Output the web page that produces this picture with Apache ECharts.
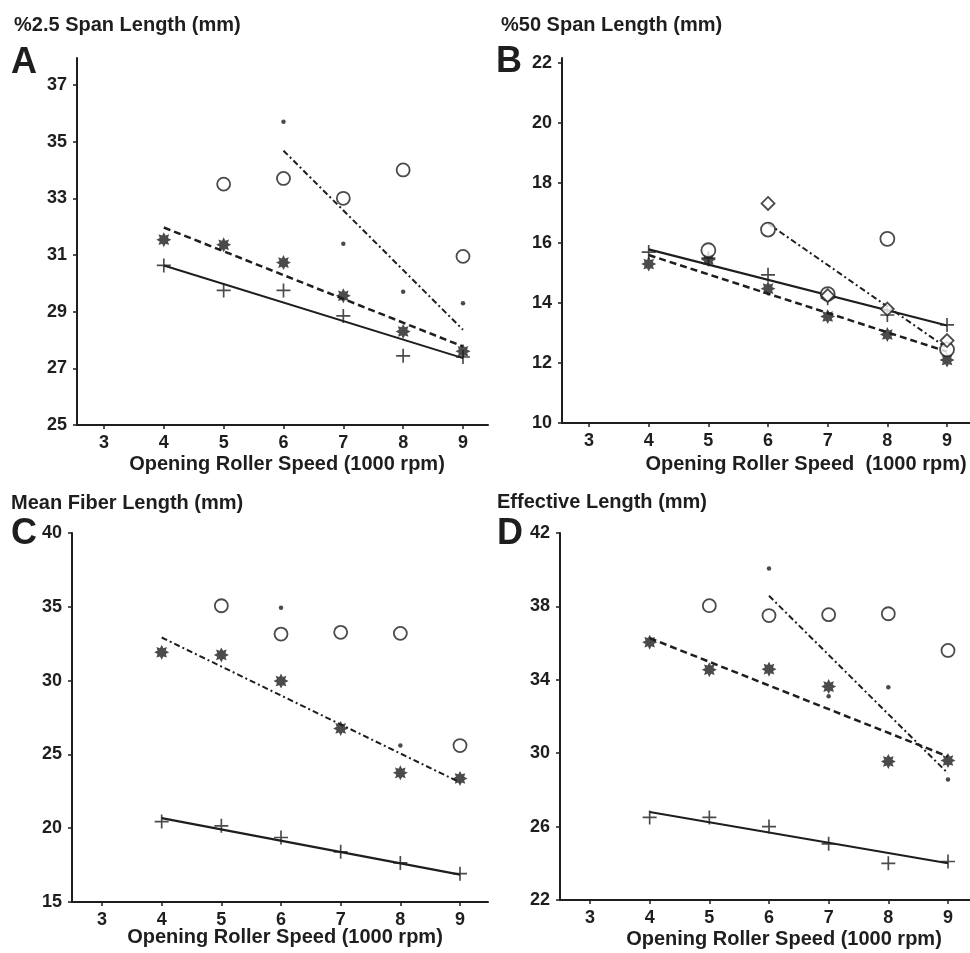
<!DOCTYPE html>
<html>
<head>
<meta charset="utf-8">
<script src="https://cdn.jsdelivr.net/npm/echarts@6/dist/echarts.min.js"></script>
<style>
html,body{margin:0;padding:0;background:#fff;}
#chart{width:970px;height:953px;}
</style>
</head>
<body>
<div id="chart"></div>
<script>
// ---- data ----
const speeds = [4, 5, 6, 7, 8, 9];
const xTicks = [3, 4, 5, 6, 7, 8, 9];
const xAxisTitle = 'Opening Roller Speed (1000 rpm)';
const xAxisTitleB = 'Opening Roller Speed  (1000 rpm)';

// Panel A: %2.5 Span Length (mm)
const titleA = '%2.5 Span Length (mm)';
const yTicksA = [25, 27, 29, 31, 33, 35, 37];
const aPlus   = [30.63, 29.75, 29.75, 28.85, 27.44, 27.4];
const aStar   = [31.54, 31.36, 30.73, 29.56, 28.3, 27.6];
const aCircle = [null, 33.5, 33.7, 33.0, 34.0, 30.95];
const aDot    = [null, null, 35.7, 31.4, 29.7, 29.3];
const aFitSolidX = [4, 9],   aFitSolid = [30.63, 27.36];
const aFitDashX  = [4, 9],   aFitDash  = [31.97, 27.77];
const aFitDotX   = [6, 9],   aFitDot   = [34.68, 28.36];

// Panel B: %50 Span Length (mm)
const titleB = '%50 Span Length (mm)';
const yTicksB = [10, 12, 14, 16, 18, 20, 22];
const bPlus    = [15.7, 15.5, 14.94, 14.16, 13.6, 13.27];
const bStar    = [15.3, 15.45, 14.48, 13.55, 12.95, 12.1];
const bCircle  = [null, 15.76, 16.45, 14.3, 16.14, 12.45];
const bDiamond = [null, null, 17.32, 14.25, 13.8, 12.75];
const bFitSolidX = [4, 9],   bFitSolid = [15.79, 13.25];
const bFitDashX  = [4, 9],   bFitDash  = [15.6, 12.38];
const bFitDotX   = [6, 9],   bFitDot   = [16.65, 12.5];

// Panel C: Mean Fiber Length (mm)
const titleC = 'Mean Fiber Length (mm)';
const yTicksC = [15, 20, 25, 30, 35, 40];
const cPlus   = [20.45, 20.16, 19.37, 18.4, 17.65, 16.92];
const cStar   = [31.92, 31.74, 29.97, 26.76, 23.75, 23.37];
const cCircle = [null, 35.07, 33.15, 33.27, 33.2, 25.6];
const cDot    = [null, null, 34.93, null, 25.6, null];
const cFitSolidX = [4, 9],   cFitSolid = [20.68, 16.85];
const cFitDotX   = [4, 9],   cFitDot   = [32.92, 23.1];

// Panel D: Effective Length (mm)
const titleD = 'Effective Length (mm)';
const yTicksD = [22, 26, 30, 34, 38, 42];
const dPlus   = [26.5, 26.5, 26.0, 25.06, 24.0, 24.1];
const dStar   = [36.05, 34.55, 34.58, 33.63, 29.55, 29.6];
const dCircle = [null, 38.04, 37.5, 37.55, 37.6, 35.6];
const dDot    = [null, null, 40.07, 33.1, 33.6, 28.57];
const dFitSolidX = [4, 9],   dFitSolid = [26.8, 24.0];
const dFitDashX  = [4, 9],   dFitDash  = [36.27, 29.82];
const dFitDotX   = [6, 9],   dFitDot   = [38.58, 28.9];

// ---- styling ----
const INK = '#1e1e1e';
const FONT = '"Liberation Sans", Arial, Helvetica, sans-serif';
const PLUS = 'path://M-1.2,-10 L1.2,-10 L1.2,-1.2 L10,-1.2 L10,1.2 L1.2,1.2 L1.2,10 L-1.2,10 L-1.2,1.2 L-10,1.2 L-10,-1.2 L-1.2,-1.2 Z';
const STAR = 'path://M0,-10 L2.3,-5.5 L7.07,-7.07 L5.5,-2.3 L10,0 L5.5,2.3 L7.07,7.07 L2.3,5.5 L0,10 L-2.3,5.5 L-7.07,7.07 L-5.5,2.3 L-10,0 L-5.5,-2.3 L-7.07,-7.07 L-2.3,-5.5 Z';

function pairs(xs, ys) {
  const out = [];
  xs.forEach((x, i) => { if (ys[i] !== null && ys[i] !== undefined) out.push([x, ys[i]]); });
  return out;
}

const grids = [
  { left: 77,  top: 58,  width: 411, height: 367, xmin: 2.549, xmax: 9.418, ymin: 25, ymax: 37.95, yt: yTicksA },
  { left: 562, top: 58,  width: 408, height: 365, xmin: 2.547, xmax: 9.385, ymin: 10, ymax: 22.17, yt: yTicksB },
  { left: 72,  top: 533, width: 416, height: 369, xmin: 2.497, xmax: 9.469, ymin: 15, ymax: 40,    yt: yTicksC },
  { left: 560, top: 533, width: 410, height: 367, xmin: 2.497, xmax: 9.369, ymin: 22, ymax: 42,    yt: yTicksD }
];

const option = {
  backgroundColor: '#ffffff',
  animation: false,
  grid: grids.map(g => ({ left: g.left, top: g.top, width: g.width, height: g.height, outerBoundsMode: 'none', containLabel: false })),
  xAxis: grids.map((g, i) => ({
    type: 'value', gridIndex: i, min: g.xmin, max: g.xmax,
    axisLine: { show: true, onZero: false, lineStyle: { color: INK, width: 2 } },
    axisTick: { show: true, inside: false, length: 4, customValues: xTicks, lineStyle: { color: INK, width: 1.5 } },
    axisLabel: { customValues: xTicks, margin: 9, color: INK, fontFamily: FONT, fontWeight: 'bold', fontSize: 18 },
    splitLine: { show: false }
  })),
  yAxis: grids.map((g, i) => ({
    type: 'value', gridIndex: i, min: g.ymin, max: g.ymax,
    axisLine: { show: true, onZero: false, lineStyle: { color: INK, width: 2 } },
    axisTick: { show: true, inside: false, length: 4, customValues: g.yt, lineStyle: { color: INK, width: 1.5 } },
    axisLabel: { customValues: g.yt, margin: 10, color: INK, fontFamily: FONT, fontWeight: 'bold', fontSize: 18 },
    splitLine: { show: false }
  })),
  graphic: [],
  series: []
};

// panel texts
const panelText = [
  { t: titleA, tx: 14,  ty: 25,  L: 'A', lx: 11,  ly: 63,  n: xAxisTitle,  nx: 287, ny: 464 },
  { t: titleB, tx: 501, ty: 25,  L: 'B', lx: 496, ly: 62,  n: xAxisTitleB, nx: 806, ny: 464 },
  { t: titleC, tx: 11,  ty: 503, L: 'C', lx: 11,  ly: 534, n: xAxisTitle,  nx: 285, ny: 937 },
  { t: titleD, tx: 497, ty: 502, L: 'D', lx: 497, ly: 534, n: xAxisTitle,  nx: 784, ny: 939 }
];
panelText.forEach(p => {
  option.graphic.push({ type: 'text', x: p.tx, y: p.ty, style: { text: p.t, fill: INK, font: 'bold 20px ' + FONT, textAlign: 'left', textVerticalAlign: 'middle' } });
  option.graphic.push({ type: 'text', x: p.lx, y: p.ly, style: { text: p.L, fill: INK, font: 'bold 36px ' + FONT, textAlign: 'left', textVerticalAlign: 'middle' } });
  option.graphic.push({ type: 'text', x: p.nx, y: p.ny, style: { text: p.n, fill: INK, font: 'bold 20px ' + FONT, textAlign: 'center', textVerticalAlign: 'middle' } });
});

function addScatter(i, ys, symbol, size, filled) {
  option.series.push({
    type: 'scatter', xAxisIndex: i, yAxisIndex: i, data: pairs(speeds, ys),
    symbol: symbol, symbolSize: size, silent: true, z: 3,
    itemStyle: filled ? { color: INK } : { color: '#fff', borderColor: INK, borderWidth: 1.8 }
  });
}
function addFit(i, xs, ys, type, width) {
  option.series.push({
    type: 'line', xAxisIndex: i, yAxisIndex: i, data: pairs(xs, ys),
    showSymbol: false, symbol: 'none', silent: true, z: 2,
    lineStyle: { color: INK, width: width, type: type }
  });
}
const SOLID = 'solid', DASH = [7, 4], DASHDOT = [6, 3, 2, 3];

// A
addFit(0, aFitSolidX, aFitSolid, SOLID, 2);
addFit(0, aFitDashX, aFitDash, DASH, 2.5);
addFit(0, aFitDotX, aFitDot, DASHDOT, 2);
addScatter(0, aPlus, PLUS, 14, true);
addScatter(0, aStar, STAR, 15, true);
addScatter(0, aCircle, 'circle', 13, false);
addScatter(0, aDot, 'circle', 4.5, true);
// B
addFit(1, bFitSolidX, bFitSolid, SOLID, 2.2);
addFit(1, bFitDashX, bFitDash, DASH, 2.5);
addFit(1, bFitDotX, bFitDot, DASHDOT, 2);
addScatter(1, bPlus, PLUS, 14, true);
addScatter(1, bStar, STAR, 15, true);
addScatter(1, bCircle, 'circle', 14, false);
addScatter(1, bDiamond, 'diamond', 13, false);
// C
addFit(2, cFitSolidX, cFitSolid, SOLID, 2.2);
addFit(2, cFitDotX, cFitDot, DASHDOT, 2);
addScatter(2, cPlus, PLUS, 14, true);
addScatter(2, cStar, STAR, 15, true);
addScatter(2, cCircle, 'circle', 13, false);
addScatter(2, cDot, 'circle', 4.5, true);
// D
addFit(3, dFitSolidX, dFitSolid, SOLID, 2);
addFit(3, dFitDashX, dFitDash, DASH, 2.5);
addFit(3, dFitDotX, dFitDot, DASHDOT, 2);
addScatter(3, dPlus, PLUS, 14, true);
addScatter(3, dStar, STAR, 15, true);
addScatter(3, dCircle, 'circle', 13, false);
addScatter(3, dDot, 'circle', 4.5, true);

const chart = echarts.init(document.getElementById('chart'), null, { renderer: 'canvas' });
chart.setOption(option);
</script>
</body>
</html>
